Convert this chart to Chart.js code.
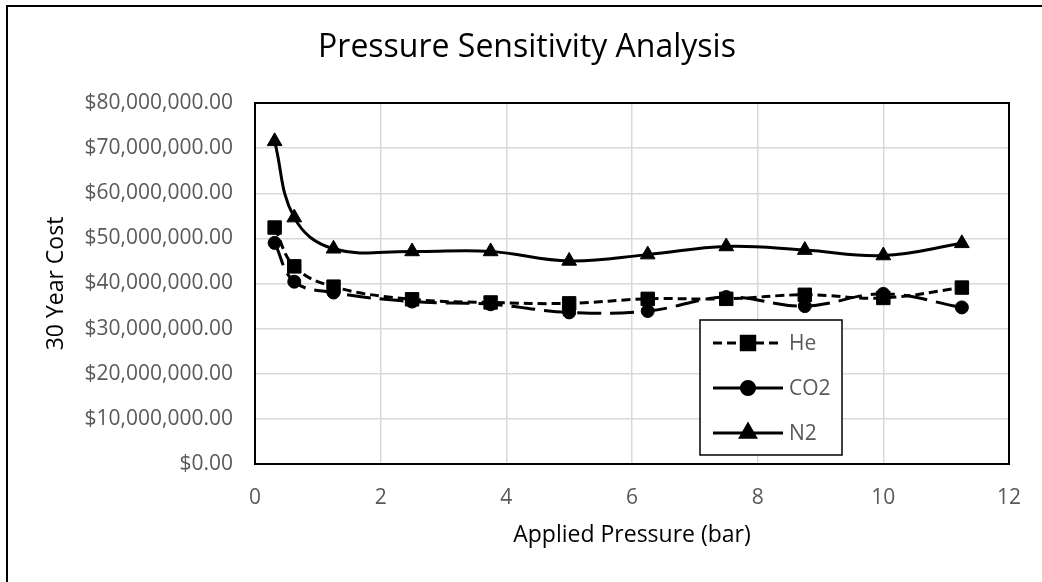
<!DOCTYPE html>
<html lang="en">
<head>
    <meta charset="UTF-8">
    <title>Pressure Sensitivity Analysis</title>
    <style>
        html, body { margin: 0; padding: 0; background: #fff; overflow: hidden; }
        /* moldura do gráfico (só o topo e a esquerda aparecem na imagem) */
        #moldura {
            position: absolute; left: 6px; top: 5px;
            width: 1100px; height: 640px;
            border: 2px solid #000; box-sizing: border-box;
        }
        #wrap { position: absolute; left: 0; top: 0; width: 1042px; height: 582px; }
    </style>
    <script src="https://cdn.jsdelivr.net/npm/chart.js"></script>
</head>
<body>
    <div id="moldura"></div>
    <div id="wrap"><canvas id="grafico" width="1042" height="582"></canvas></div>

    <script>
        // Dados
        const pressao = [0.3125, 0.625, 1.25, 2.5, 3.75, 5, 6.25, 7.5, 8.75, 10, 11.25];
        const custoHe  = [52.4, 43.8, 39.3, 36.5, 35.8, 35.6, 36.6, 36.6, 37.5, 36.8, 39.1];
        const custoCO2 = [49.0, 40.4, 38.0, 36.0, 35.4, 33.6, 33.9, 37.0, 35.0, 37.7, 34.7];
        const custoN2  = [71.5, 54.6, 47.7, 47.1, 47.1, 45.0, 46.4, 48.2, 47.4, 46.2, 48.9];
        const nomes = ['He', 'CO2', 'N2'];
        const ticksX = [0, 2, 4, 6, 8, 10, 12];

        const fonte = '"Open Sans", "DejaVu Sans", sans-serif';
        const cinzaTexto = '#595959';

        function pontos(ys) {
            return pressao.map((x, i) => ({ x: x, y: ys[i] * 1e6 }));
        }

        function dinheiro(v) {
            return '$' + v.toLocaleString('en-US', { minimumFractionDigits: 2, maximumFractionDigits: 2 });
        }

        // Moldura da área do gráfico
        const bordaArea = {
            id: 'bordaArea',
            afterDraw(chart) {
                const { ctx, chartArea: a } = chart;
                ctx.save();
                ctx.strokeStyle = '#000';
                ctx.lineWidth = 2;
                ctx.strokeRect(a.left, a.top, a.right - a.left, a.bottom - a.top);
                ctx.restore();
            }
        };

        // Legenda desenhada dentro da área do gráfico
        const legendaInterna = {
            id: 'legendaInterna',
            afterDraw(chart) {
                const { ctx, chartArea: a } = chart;
                const bx = a.left + 445, by = a.top + 217, bw = 142, bh = 135;
                ctx.save();
                ctx.fillStyle = '#fff';
                ctx.fillRect(bx, by, bw, bh);
                ctx.strokeStyle = '#000';
                ctx.lineWidth = 1.5;
                ctx.strokeRect(bx, by, bw, bh);
                chart.data.datasets.forEach((ds, i) => {
                    const y = by + 23 + i * 45;
                    ctx.beginPath();
                    ctx.setLineDash(ds.legendDash || []);
                    ctx.lineWidth = ds.borderWidth;
                    ctx.strokeStyle = ds.borderColor;
                    ctx.moveTo(bx + 13, y);
                    ctx.lineTo(bx + 83, y);
                    ctx.stroke();
                    ctx.setLineDash([]);
                    Chart.helpers.drawPoint(ctx, {
                        pointStyle: ds.pointStyle, radius: ds.pointRadius, rotation: 0,
                        borderWidth: 1
                    }, bx + 48, y);
                    ctx.fillStyle = '#000';
                    ctx.fill();
                    ctx.fillStyle = cinzaTexto;
                    ctx.font = '21px ' + fonte;
                    ctx.textBaseline = 'middle';
                    ctx.textAlign = 'left';
                    ctx.fillText(ds.label, bx + 89, y + 1);
                });
                ctx.restore();
            }
        };

        function serie(nome, ys, estilo, raio, tracejado, legenda) {
            return {
                label: nome,
                data: pontos(ys),
                showLine: true,
                borderColor: '#000',
                backgroundColor: '#000',
                borderWidth: 3,
                borderDash: tracejado,
                legendDash: legenda,
                tension: 0.4,
                pointStyle: estilo,
                pointRadius: raio,
                pointHoverRadius: raio,
                pointBorderWidth: 1
            };
        }

        new Chart(document.getElementById('grafico').getContext('2d'), {
            type: 'scatter',
            data: {
                datasets: [
                    serie(nomes[0], custoHe, 'rect', 9.5, [9, 5], [9, 5]),
                    serie(nomes[1], custoCO2, 'circle', 6.5, [24, 9], []),
                    serie(nomes[2], custoN2, 'triangle', 8.5, [], [])
                ]
            },
            options: {
                responsive: false,
                animation: false,
                events: [],
                layout: { padding: { left: 43, right: 31, top: 0, bottom: 0 } },
                plugins: {
                    legend: { display: false },
                    tooltip: { enabled: false },
                    title: {
                        display: true,
                        text: 'Pressure Sensitivity Analysis',
                        color: '#000',
                        font: { family: fonte, size: 32, weight: 'normal' },
                        padding: { top: 29, bottom: 35.6 }
                    }
                },
                scales: {
                    x: {
                        type: 'linear',
                        min: 0, max: 12,
                        afterBuildTicks: s => { s.ticks = ticksX.map(v => ({ value: v })); },
                        afterFit: s => { s.height = 118; },
                        grid: { color: '#d9d9d9', lineWidth: 1.5, drawTicks: false },
                        border: { display: false },
                        ticks: { color: cinzaTexto, padding: 21, font: { family: fonte, size: 21 } },
                        title: {
                            display: true,
                            text: 'Applied Pressure (bar)',
                            color: '#000',
                            font: { family: fonte, size: 23 },
                            padding: { top: 0, bottom: 33 }
                        }
                    },
                    y: {
                        min: 0, max: 80000000,
                        afterFit: s => { s.width = 212; },
                        grid: { color: '#d9d9d9', lineWidth: 1.5, drawTicks: false },
                        border: { display: false },
                        ticks: {
                            stepSize: 10000000,
                            color: cinzaTexto,
                            padding: 22,
                            font: { family: fonte, size: 21 },
                            callback: v => dinheiro(v)
                        },
                        title: {
                            display: true,
                            text: '30 Year Cost',
                            color: '#000',
                            font: { family: fonte, size: 23 },
                            padding: { top: 0, bottom: 0 }
                        }
                    }
                }
            },
            plugins: [bordaArea, legendaInterna]
        });
    </script>
</body>
</html>
